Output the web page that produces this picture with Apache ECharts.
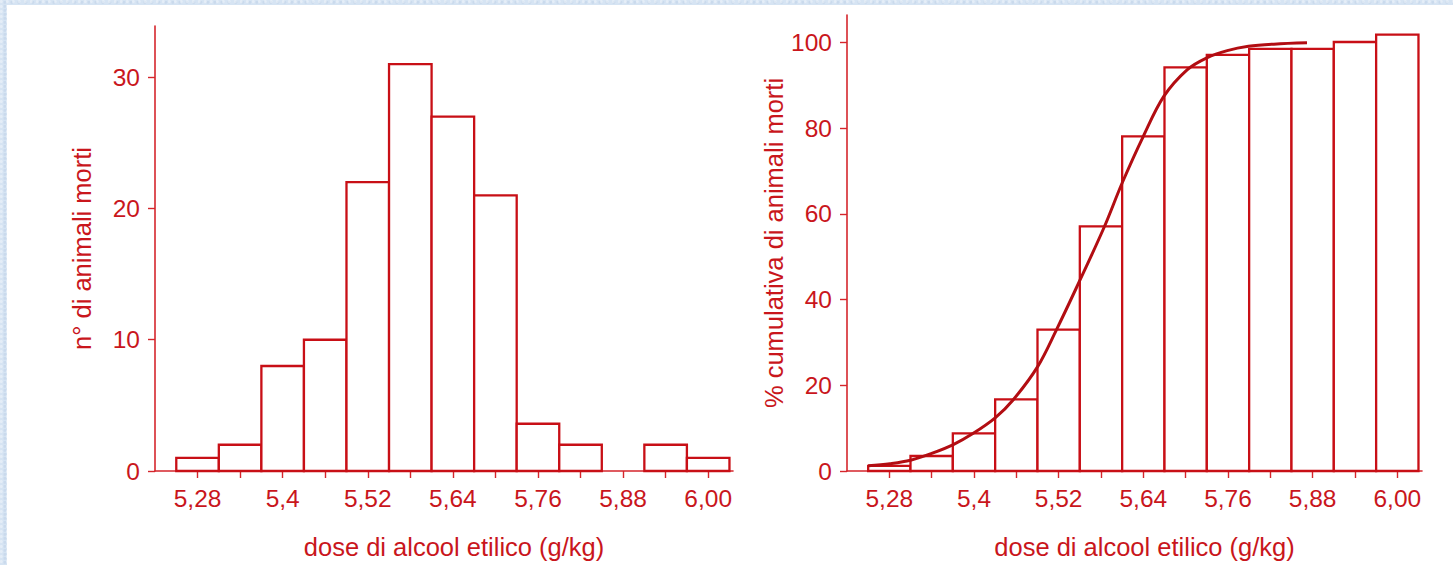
<!DOCTYPE html>
<html>
<head>
<meta charset="utf-8">
<script src="https://cdn.jsdelivr.net/npm/echarts@6/dist/echarts.min.js"></script>
<style>
  html, body { margin: 0; padding: 0; }
  body {
    width: 1453px; height: 565px; overflow: hidden; position: relative;
    background: #d6e4f3;
    background-image:
      radial-gradient(circle at 20% 30%, rgba(255,255,255,0.35) 0 1px, transparent 2px),
      radial-gradient(circle at 70% 60%, rgba(180,200,225,0.35) 0 1px, transparent 2px);
    background-size: 6px 5px, 7px 4px;
  }
  #panel { position: absolute; left: 7px; top: 5px; right: 0; bottom: 0; background: #ffffff; }
  #chart { position: absolute; left: 0; top: 0; width: 1453px; height: 565px; }
</style>
</head>
<body>
<div id="panel"></div>
<div id="chart"></div>
<script>
// ---- data ----
const doseBins = [5.28, 5.34, 5.40, 5.46, 5.52, 5.58, 5.64, 5.70, 5.76, 5.82, 5.88, 5.94, 6.00];
const deadCounts = [1, 2, 8, 10, 22, 31, 27, 21, 3.6, 2, 0, 2, 1];
const cumulativePct = [1.2, 3.5, 8.8, 16.7, 33.0, 57.1, 78.1, 94.2, 97.1, 98.5, 98.5, 100.1, 101.8];
const curveDose = [5.250, 5.281, 5.310, 5.340, 5.370, 5.399, 5.430, 5.456, 5.490, 5.517, 5.545, 5.584, 5.610, 5.640, 5.669, 5.702, 5.730, 5.759, 5.789, 5.825, 5.872];
const curvePct  = [1.2, 1.7, 2.5, 4.1, 6.1, 8.8, 12.4, 16.7, 24.3, 33.0, 42.7, 56.7, 67.2, 78.1, 87.4, 93.6, 96.4, 98.1, 99.1, 99.6, 99.9];
const xLabelValues = [5.28, 5.40, 5.52, 5.64, 5.76, 5.88, 6.00];
const xLabels = ['5,28', '5,4', '5,52', '5,64', '5,76', '5,88', '6,00'];
const leftYTicks = [0, 10, 20, 30];
const rightYTicks = [0, 20, 40, 60, 80, 100];
const xTitle = 'dose di alcool etilico (g/kg)';
const leftYTitle = 'n° di animali morti';
const rightYTitle = '% cumulativa di animali morti';

// ---- styling ----
const RED_TEXT = '#c9161c';
const RED_AXIS = '#d5262c';
const RED_BAR = '#c80f16';
const RED_CURVE = '#b20d12';
const FONT = "'Liberation Sans', Arial, Helvetica, sans-serif";
const binW = doseBins[1] - doseBins[0];

const chart = echarts.init(document.getElementById('chart'), null, { renderer: 'svg' });

function xAxisCfg(gridIndex) {
  return {
    type: 'value', gridIndex: gridIndex, min: 5.22, max: 6.035,
    axisLine: { show: true, onZero: false, lineStyle: { color: RED_AXIS, width: 1.6 } },
    axisTick: { show: true, customValues: doseBins, length: 7, lineStyle: { color: RED_AXIS, width: 1.4 } },
    axisLabel: {
      customValues: xLabelValues, margin: 15, color: RED_TEXT, fontSize: 24.5, fontFamily: FONT,
      formatter: function (v) {
        for (let i = 0; i < xLabelValues.length; i++) if (Math.abs(xLabelValues[i] - v) < 1e-6) return xLabels[i];
        return '';
      }
    },
    splitLine: { show: false },
    name: xTitle, nameLocation: 'middle', nameGap: 63,
    nameTextStyle: { color: RED_TEXT, fontSize: 25.5, fontFamily: FONT, padding: [0, 0, 0, 20] }
  };
}
function yAxisCfg(gridIndex, max, ticks, title) {
  return {
    type: 'value', gridIndex: gridIndex, min: 0, max: max,
    axisLine: { show: true, lineStyle: { color: RED_AXIS, width: 1.6 } },
    axisTick: { show: true, customValues: ticks, length: 7, lineStyle: { color: RED_AXIS, width: 1.4 } },
    axisLabel: { customValues: ticks, margin: 15, color: RED_TEXT, fontSize: 24.5, fontFamily: FONT },
    splitLine: { show: false },
    name: title, nameLocation: 'middle', nameGap: 60,
    nameTextStyle: { color: RED_TEXT, fontSize: 25.5, fontFamily: FONT }
  };
}
function histRender(params, api) {
  const x = api.value(0), v = api.value(1);
  if (!v) return null;
  const p0 = api.coord([x - binW / 2, 0]);
  const p1 = api.coord([x + binW / 2, v]);
  return {
    type: 'rect',
    shape: { x: p0[0], y: p1[1], width: p1[0] - p0[0], height: p0[1] - p1[1] },
    style: { fill: '#ffffff', stroke: RED_BAR, lineWidth: 2.3 }
  };
}

chart.setOption({
  animation: false,
  backgroundColor: 'transparent',
  grid: [
    { left: 155, top: 26, width: 578, bottom: 93.3 },
    { left: 847, top: 15, width: 575, bottom: 93.3 }
  ],
  xAxis: [xAxisCfg(0), xAxisCfg(1)],
  yAxis: [
    yAxisCfg(0, 33.9, leftYTicks, leftYTitle),
    yAxisCfg(1, 106.4, rightYTicks, rightYTitle)
  ],
  series: [
    {
      type: 'custom', xAxisIndex: 0, yAxisIndex: 0, renderItem: histRender, clip: false,
      data: doseBins.map((d, i) => [d, deadCounts[i]])
    },
    {
      type: 'custom', xAxisIndex: 1, yAxisIndex: 1, renderItem: histRender, clip: false,
      data: doseBins.map((d, i) => [d, cumulativePct[i]])
    },
    {
      type: 'line', xAxisIndex: 1, yAxisIndex: 1, smooth: 0.35,
      showSymbol: false, symbol: 'none',
      lineStyle: { color: RED_CURVE, width: 3 },
      data: curveDose.map((d, i) => [d, curvePct[i]])
    }
  ]
});
</script>
</body>
</html>
